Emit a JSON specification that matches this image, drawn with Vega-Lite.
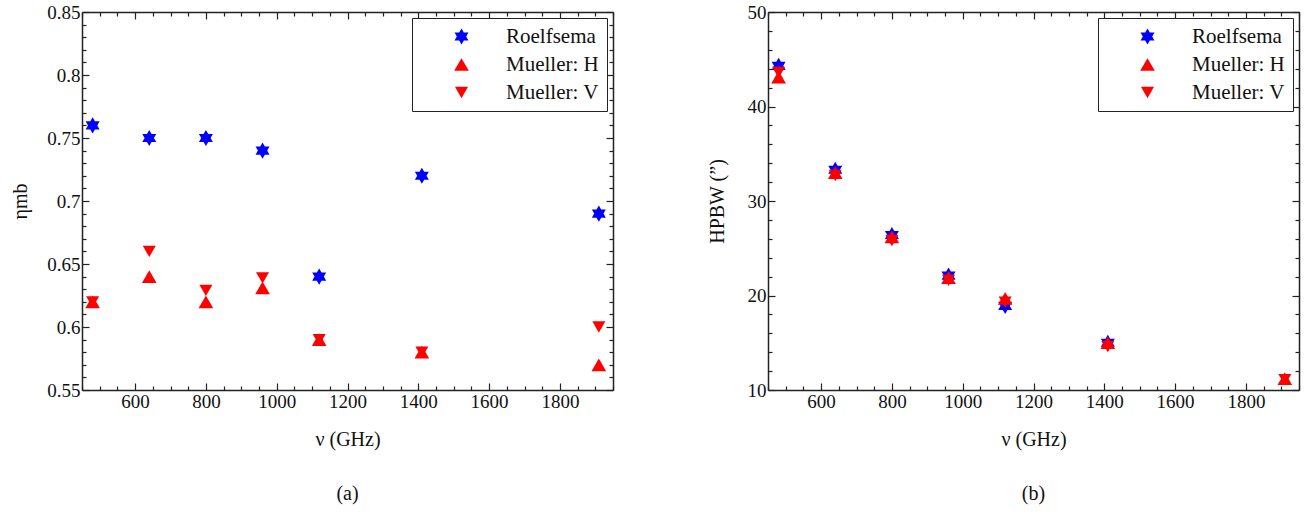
{
  "$schema": "https://vega.github.io/schema/vega-lite/v6.json",
  "padding": {"left": 10, "top": 3, "right": 6, "bottom": 5},
  "background": "white",
  "config": {
    "font": "Liberation Serif",
    "view": {"stroke": null},
    "axis": {
      "grid": false,
      "domainColor": "#222",
      "domainWidth": 1.5,
      "tickColor": "#222",
      "tickWidth": 1.2,
      "labelColor": "#111",
      "labelFont": "Liberation Serif",
      "labelFontSize": 19,
      "labelPadding": 9,
      "labelOverlap": false,
      "labelFlush": false,
      "titleFont": "Liberation Serif",
      "titleFontSize": 20,
      "titleFontWeight": "normal",
      "titleColor": "#111"
    },
    "legend": {
      "title": null,
      "orient": "top-right",
      "offset": 6,
      "strokeColor": "#222",
      "fillColor": "white",
      "padding": 8,
      "labelFont": "Liberation Serif",
      "labelFontSize": 21,
      "labelColor": "#111",
      "labelLimit": 300,
      "rowPadding": 6,
      "symbolOffset": 31,
      "labelOffset": 34,
      "symbolStrokeWidth": 0
    },
    "title": {"font": "Liberation Serif", "fontSize": 20, "fontWeight": "normal", "color": "#111"}
  },
  "datasets": {
    "eta": [
      {"freq": 480, "series": "Roelfsema", "eta": 0.76},
      {"freq": 640, "series": "Roelfsema", "eta": 0.75},
      {"freq": 800, "series": "Roelfsema", "eta": 0.75},
      {"freq": 960, "series": "Roelfsema", "eta": 0.74},
      {"freq": 1120, "series": "Roelfsema", "eta": 0.64},
      {"freq": 1410, "series": "Roelfsema", "eta": 0.72},
      {"freq": 1910, "series": "Roelfsema", "eta": 0.69},
      {"freq": 480, "series": "Mueller: H", "eta": 0.62},
      {"freq": 640, "series": "Mueller: H", "eta": 0.64},
      {"freq": 800, "series": "Mueller: H", "eta": 0.62},
      {"freq": 960, "series": "Mueller: H", "eta": 0.631},
      {"freq": 1120, "series": "Mueller: H", "eta": 0.59},
      {"freq": 1410, "series": "Mueller: H", "eta": 0.58},
      {"freq": 1910, "series": "Mueller: H", "eta": 0.57},
      {"freq": 480, "series": "Mueller: V", "eta": 0.62},
      {"freq": 640, "series": "Mueller: V", "eta": 0.66},
      {"freq": 800, "series": "Mueller: V", "eta": 0.629},
      {"freq": 960, "series": "Mueller: V", "eta": 0.639},
      {"freq": 1120, "series": "Mueller: V", "eta": 0.59},
      {"freq": 1410, "series": "Mueller: V", "eta": 0.58},
      {"freq": 1910, "series": "Mueller: V", "eta": 0.60}
    ],
    "hpbw": [
      {"freq": 480, "series": "Roelfsema", "hpbw": 44.3},
      {"freq": 640, "series": "Roelfsema", "hpbw": 33.3},
      {"freq": 800, "series": "Roelfsema", "hpbw": 26.4},
      {"freq": 960, "series": "Roelfsema", "hpbw": 22.1},
      {"freq": 1120, "series": "Roelfsema", "hpbw": 18.9},
      {"freq": 1410, "series": "Roelfsema", "hpbw": 15.0},
      {"freq": 480, "series": "Mueller: H", "hpbw": 43.1},
      {"freq": 640, "series": "Mueller: H", "hpbw": 33.0},
      {"freq": 800, "series": "Mueller: H", "hpbw": 26.2},
      {"freq": 960, "series": "Mueller: H", "hpbw": 21.9},
      {"freq": 1120, "series": "Mueller: H", "hpbw": 19.7},
      {"freq": 1410, "series": "Mueller: H", "hpbw": 15.0},
      {"freq": 1910, "series": "Mueller: H", "hpbw": 11.2},
      {"freq": 480, "series": "Mueller: V", "hpbw": 43.6},
      {"freq": 640, "series": "Mueller: V", "hpbw": 32.7},
      {"freq": 800, "series": "Mueller: V", "hpbw": 25.8},
      {"freq": 960, "series": "Mueller: V", "hpbw": 21.6},
      {"freq": 1120, "series": "Mueller: V", "hpbw": 19.3},
      {"freq": 1410, "series": "Mueller: V", "hpbw": 14.6},
      {"freq": 1910, "series": "Mueller: V", "hpbw": 11.1}
    ]
  },
  "spacing": 93,
  "resolve": {"scale": {"color": "independent", "shape": "independent", "size": "independent"}, "legend": {"color": "independent", "shape": "independent", "size": "independent"}},
  "hconcat": [
    {
      "width": 531,
      "height": 378,
      "title": {"text": "(a)", "orient": "bottom", "offset": 35},
      "data": {"name": "eta"},
      "resolve": {"axis": {"x": "independent", "y": "independent"}},
      "layer": [
        {
          "mark": {"type": "point", "filled": true, "opacity": 1},
          "encoding": {
            "x": {"field": "freq", "type": "quantitative", "scale": {"domain": [450, 1950], "nice": false, "zero": false},
              "axis": {"orient": "bottom", "title": "ν (GHz)", "titlePadding": 15, "format": "d",
                "values": [450,500,550,600,650,700,750,800,850,900,950,1000,1050,1100,1150,1200,1250,1300,1350,1400,1450,1500,1550,1600,1650,1700,1750,1800,1850,1900,1950],
                "labelExpr": "datum.value % 200 === 0 ? datum.label : ''",
                "tickSize": {"condition": {"test": "datum.value % 200 === 0", "value": -7}, "value": -4}}},
            "y": {"field": "eta", "type": "quantitative", "scale": {"domain": [0.55, 0.85], "nice": false, "zero": false},
              "axis": {"orient": "left", "title": "ηmb", "titlePadding": 16, "format": ".2~f",
                "values": [0.55,0.56,0.57,0.58,0.59,0.6,0.61,0.62,0.63,0.64,0.65,0.66,0.67,0.68,0.69,0.7,0.71,0.72,0.73,0.74,0.75,0.76,0.77,0.78,0.79,0.8,0.81,0.82,0.83,0.84,0.85],
                "labelExpr": "abs(datum.value*20 - round(datum.value*20)) < 0.001 ? datum.label : ''",
                "tickSize": {"condition": {"test": "abs(datum.value*20 - round(datum.value*20)) < 0.001", "value": -7}, "value": -4}}},
            "color": {"field": "series", "type": "nominal", "scale": {"domain": ["Roelfsema", "Mueller: H", "Mueller: V"], "range": ["#0000ff", "#ff0000", "#ff0000"]}},
            "shape": {"field": "series", "type": "nominal", "scale": {"domain": ["Roelfsema", "Mueller: H", "Mueller: V"], "range": ["M0,-1L0.2887,-0.5L0.866,-0.5L0.5774,0L0.866,0.5L0.2887,0.5L0,1L-0.2887,0.5L-0.866,0.5L-0.5774,0L-0.866,-0.5L-0.2887,-0.5Z", "triangle-up", "triangle-down"]}},
            "size": {"field": "series", "type": "nominal", "scale": {"domain": ["Roelfsema", "Mueller: H", "Mueller: V"], "range": [260, 170, 170]}}
          }
        },
        {
          "mark": {"type": "point", "opacity": 0},
          "encoding": {
            "x": {"field": "freq", "type": "quantitative",
              "axis": {"orient": "top", "title": null, "labels": false,
                "values": [450,500,550,600,650,700,750,800,850,900,950,1000,1050,1100,1150,1200,1250,1300,1350,1400,1450,1500,1550,1600,1650,1700,1750,1800,1850,1900,1950],
                "tickSize": {"condition": {"test": "datum.value % 200 === 0", "value": -7}, "value": -4}}},
            "y": {"field": "eta", "type": "quantitative",
              "axis": {"orient": "right", "title": null, "labels": false,
                "values": [0.55,0.56,0.57,0.58,0.59,0.6,0.61,0.62,0.63,0.64,0.65,0.66,0.67,0.68,0.69,0.7,0.71,0.72,0.73,0.74,0.75,0.76,0.77,0.78,0.79,0.8,0.81,0.82,0.83,0.84,0.85],
                "tickSize": {"condition": {"test": "abs(datum.value*20 - round(datum.value*20)) < 0.001", "value": -7}, "value": -4}}}
          }
        }
      ]
    },
    {
      "width": 531,
      "height": 378,
      "title": {"text": "(b)", "orient": "bottom", "offset": 35},
      "data": {"name": "hpbw"},
      "resolve": {"axis": {"x": "independent", "y": "independent"}},
      "layer": [
        {
          "mark": {"type": "point", "filled": true, "opacity": 1},
          "encoding": {
            "x": {"field": "freq", "type": "quantitative", "scale": {"domain": [450, 1950], "nice": false, "zero": false},
              "axis": {"orient": "bottom", "title": "ν (GHz)", "titlePadding": 15, "format": "d",
                "values": [450,500,550,600,650,700,750,800,850,900,950,1000,1050,1100,1150,1200,1250,1300,1350,1400,1450,1500,1550,1600,1650,1700,1750,1800,1850,1900,1950],
                "labelExpr": "datum.value % 200 === 0 ? datum.label : ''",
                "tickSize": {"condition": {"test": "datum.value % 200 === 0", "value": -7}, "value": -4}}},
            "y": {"field": "hpbw", "type": "quantitative", "scale": {"domain": [10, 50], "nice": false, "zero": false},
              "axis": {"orient": "left", "title": "HPBW (”)", "titlePadding": 20, "format": "d",
                "values": [10,12,14,16,18,20,22,24,26,28,30,32,34,36,38,40,42,44,46,48,50],
                "labelExpr": "datum.value % 10 === 0 ? datum.label : ''",
                "tickSize": {"condition": {"test": "datum.value % 10 === 0", "value": -7}, "value": -4}}},
            "color": {"field": "series", "type": "nominal", "scale": {"domain": ["Roelfsema", "Mueller: H", "Mueller: V"], "range": ["#0000ff", "#ff0000", "#ff0000"]}},
            "shape": {"field": "series", "type": "nominal", "scale": {"domain": ["Roelfsema", "Mueller: H", "Mueller: V"], "range": ["M0,-1L0.2887,-0.5L0.866,-0.5L0.5774,0L0.866,0.5L0.2887,0.5L0,1L-0.2887,0.5L-0.866,0.5L-0.5774,0L-0.866,-0.5L-0.2887,-0.5Z", "triangle-up", "triangle-down"]}},
            "size": {"field": "series", "type": "nominal", "scale": {"domain": ["Roelfsema", "Mueller: H", "Mueller: V"], "range": [260, 170, 170]}}
          }
        },
        {
          "mark": {"type": "point", "opacity": 0},
          "encoding": {
            "x": {"field": "freq", "type": "quantitative",
              "axis": {"orient": "top", "title": null, "labels": false,
                "values": [450,500,550,600,650,700,750,800,850,900,950,1000,1050,1100,1150,1200,1250,1300,1350,1400,1450,1500,1550,1600,1650,1700,1750,1800,1850,1900,1950],
                "tickSize": {"condition": {"test": "datum.value % 200 === 0", "value": -7}, "value": -4}}},
            "y": {"field": "hpbw", "type": "quantitative",
              "axis": {"orient": "right", "title": null, "labels": false,
                "values": [10,12,14,16,18,20,22,24,26,28,30,32,34,36,38,40,42,44,46,48,50],
                "tickSize": {"condition": {"test": "datum.value % 10 === 0", "value": -7}, "value": -4}}}
          }
        }
      ]
    }
  ]
}
